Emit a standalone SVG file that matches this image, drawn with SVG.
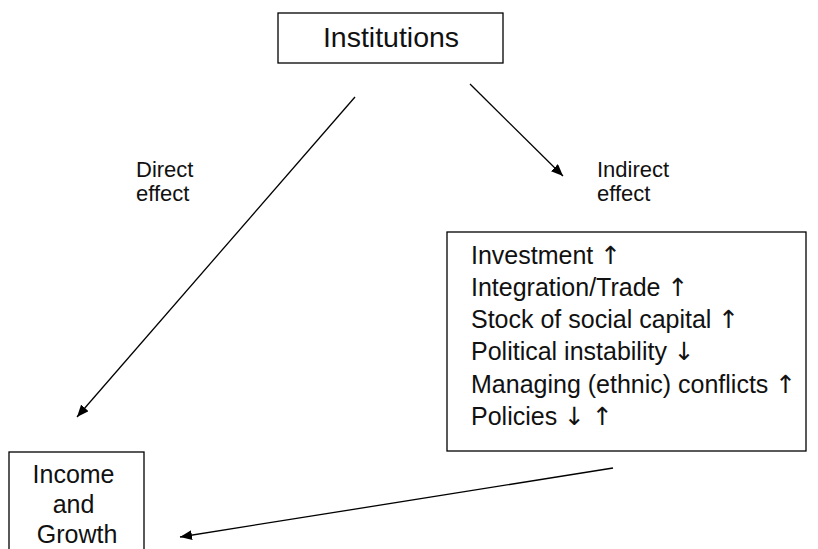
<svg xmlns="http://www.w3.org/2000/svg" width="818" height="549" viewBox="0 0 818 549">
<defs>
<marker id="arr" viewBox="0 0 12 10" refX="12" refY="5" markerWidth="12" markerHeight="10" markerUnits="userSpaceOnUse" orient="auto">
<path d="M0,0 L12,5 L0,10 z" fill="#000"/>
</marker>
<style>
.box{fill:#fff;stroke:#000;stroke-width:1.3}
.t{font-family:"Liberation Sans",Arial,sans-serif;fill:#111}
.ar{font-family:"DejaVu Sans",sans-serif;fill:#111}
.conn{stroke:#000;stroke-width:1.3;fill:none;marker-end:url(#arr)}
</style>
</defs>
<rect width="818" height="549" fill="#fff"/>
<g id="institutions">
<rect class="box" x="278" y="13" width="225" height="50"/>
<text class="t" x="391" y="47" font-size="28.5" text-anchor="middle">Institutions</text>
</g>
<g id="channels">
<rect class="box" x="447" y="232" width="359" height="219"/>
<text class="t" font-size="25">
<tspan x="471" y="264">Investment <tspan class="ar">↑</tspan></tspan>
<tspan x="471" y="296">Integration/Trade <tspan class="ar">↑</tspan></tspan>
<tspan x="471" y="328">Stock of social capital <tspan class="ar">↑</tspan></tspan>
<tspan x="471" y="360">Political instability <tspan class="ar">↓</tspan></tspan>
<tspan x="471" y="393">Managing (ethnic) conflicts <tspan class="ar">↑</tspan></tspan>
<tspan x="471" y="425">Policies <tspan class="ar">↓</tspan> <tspan class="ar">↑</tspan></tspan>
</text>
</g>
<g id="income">
<rect class="box" x="9" y="452" width="135" height="110"/>
<text class="t" font-size="25" text-anchor="middle">
<tspan x="77" y="483">Income</tspan>
<tspan x="77" y="513">and</tspan>
<tspan x="77" y="543">Growth</tspan>
</text>
</g>
<g id="connectors">
<line class="conn" x1="355" y1="97" x2="77" y2="417"/>
<line class="conn" x1="470" y1="84" x2="563" y2="176"/>
<line class="conn" x1="613" y1="468" x2="180" y2="537"/>
</g>
<g id="labels">
<text class="t" font-size="22">
<tspan x="136" y="177">Direct</tspan>
<tspan x="136" y="201">effect</tspan>
<tspan x="597" y="177">Indirect</tspan>
<tspan x="597" y="201">effect</tspan>
</text>
</g>
</svg>
